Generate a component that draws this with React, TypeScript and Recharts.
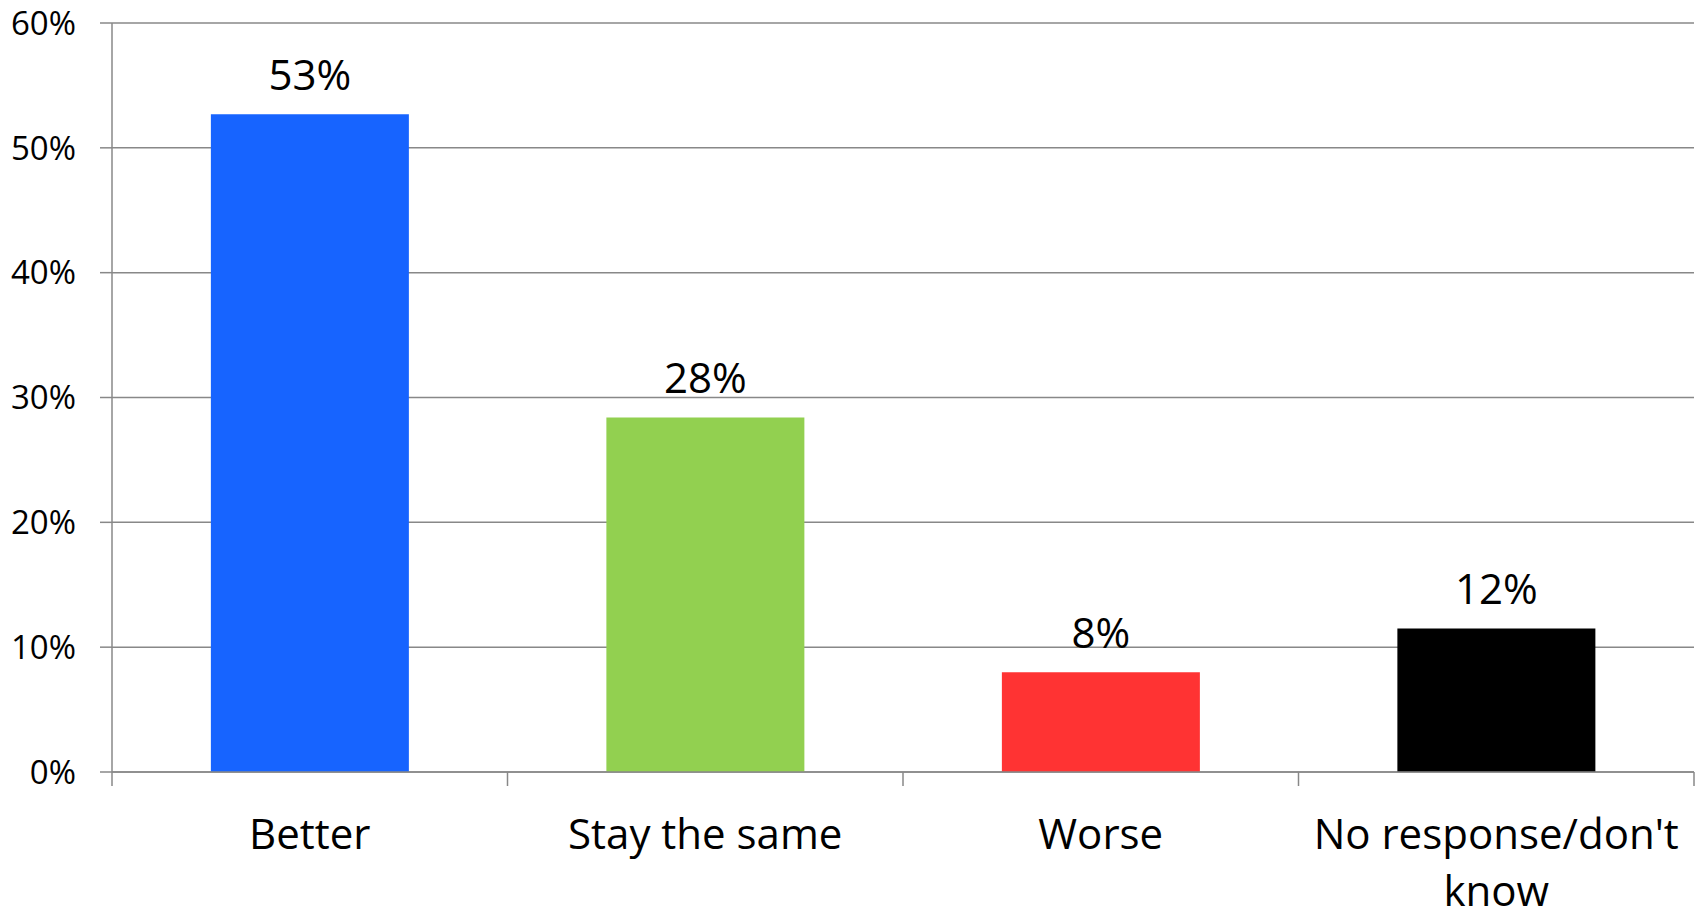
import { BarChart, Bar, XAxis, YAxis, CartesianGrid, LabelList, Cell } from 'recharts'

const categories = ['Better', 'Stay the same', 'Worse', "No response/don't know"]
const shares = [52.7, 28.4, 8.0, 11.5]
const barColors = ['#1764FF', '#92D050', '#FF3333', '#000000']
const yTicks = [0, 10, 20, 30, 40, 50, 60]

const data = categories.map((name, i) => ({ name, value: shares[i] }))

const FONT = '"Open Sans", sans-serif'
const GRAY = '#888888'
const CAT_MARGIN = 47
const CAT_TICK = 14

// greedy word wrap, roughly by character count
function wrap(label: string, maxChars: number) {
  const lines: string[] = []
  let cur = ''
  for (const w of label.split(' ')) {
    const next = cur ? cur + ' ' + w : w
    if (next.length > maxChars && cur) {
      lines.push(cur)
      cur = w
    } else {
      cur = next
    }
  }
  if (cur) lines.push(cur)
  return lines
}

function CategoryTick(props: any) {
  const { x, y, payload, index, visibleTicksCount, width } = props
  const band = width / visibleTicksCount
  const y0 = y - CAT_MARGIN
  const lines = wrap(String(payload.value), 18)
  return (
    <g>
      <line x1={x - band / 2} x2={x - band / 2} y1={y0} y2={y0 + CAT_TICK} stroke={GRAY} strokeWidth={1.5} />
      {index === visibleTicksCount - 1 && (
        <line x1={x + band / 2} x2={x + band / 2} y1={y0} y2={y0 + CAT_TICK} stroke={GRAY} strokeWidth={1.5} />
      )}
      <text x={x} y={y} textAnchor="middle" fill="#000" style={{ fontFamily: FONT, fontSize: 42 }}>
        {lines.map((l, i) => (
          <tspan key={i} x={x} dy={i === 0 ? '0.71em' : 57}>
            {l}
          </tspan>
        ))}
      </text>
    </g>
  )
}

export default function App() {
  return (
    <div style={{ position: 'absolute', left: 0, top: 0, fontFamily: FONT }}>
      <BarChart
        width={1700}
        height={909}
        data={data}
        margin={{ top: 23, right: 6, bottom: 0, left: 0 }}
        barCategoryGap="25%"
      >
        <CartesianGrid vertical={false} stroke={GRAY} strokeWidth={1.5} />
        <XAxis
          dataKey="name"
          height={137}
          axisLine={{ stroke: GRAY, strokeWidth: 1.5 }}
          tickLine={false}
          tickSize={0}
          tickMargin={CAT_MARGIN}
          interval={0}
          tick={<CategoryTick />}
        />
        <YAxis
          width={112}
          domain={[0, 60]}
          ticks={yTicks}
          interval={0}
          tickFormatter={(v: number) => `${v}%`}
          tick={{ fill: '#000', fontSize: 33, fontFamily: FONT }}
          tickSize={12}
          tickMargin={24}
          axisLine={{ stroke: GRAY, strokeWidth: 1.5 }}
          tickLine={{ stroke: GRAY, strokeWidth: 1.5 }}
        />
        <Bar dataKey="value" isAnimationActive={false}>
          {data.map((d, i) => (
            <Cell key={d.name} fill={barColors[i]} />
          ))}
          <LabelList
            dataKey="value"
            position="top"
            offset={24}
            formatter={(v: any) => `${Math.round(Number(v))}%`}
            style={{ fill: '#000', fontSize: 42, fontFamily: FONT }}
          />
        </Bar>
      </BarChart>
    </div>
  )
}
